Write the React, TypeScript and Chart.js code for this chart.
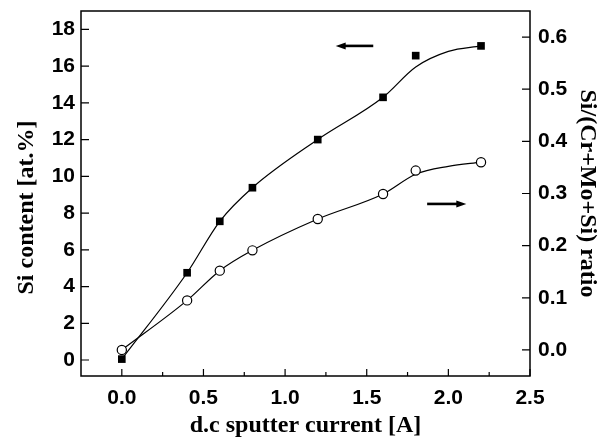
import { useEffect, useRef } from "react";
import { Chart, registerables } from "chart.js";

Chart.register(...registerables);

// Data
const currents = [0, 0.4, 0.6, 0.8, 1.2, 1.6, 1.8, 2.2];
const siContent = [0.05, 4.75, 7.55, 9.38, 12.0, 14.3, 16.57, 17.1];
const siRatio = [0.0, 0.095, 0.152, 0.191, 0.251, 0.299, 0.344, 0.36];

// Smooth fit curves
const fitCurrents = [0, 0.4, 0.6, 0.8, 1.2, 1.6, 1.8, 2.0, 2.2];
const siContentFit = [0.05, 4.75, 7.55, 9.38, 12.0, 14.3, 15.95, 16.8, 17.1];
const siRatioFit = [0.0, 0.095, 0.152, 0.191, 0.251, 0.299, 0.337, 0.352, 0.36];

// Ticks
const xTicks = [0, 0.25, 0.5, 0.75, 1.0, 1.25, 1.5, 1.75, 2.0, 2.25, 2.5];
const xLabelTicks = [0, 0.5, 1.0, 1.5, 2.0, 2.5];
const leftTicks = [0, 2, 4, 6, 8, 10, 12, 14, 16, 18];
const rightTicks = [0, 0.1, 0.2, 0.3, 0.4, 0.5, 0.6];

// Arrow annotations (data coordinates)
const leftArrowX = [1.31, 1.54];
const leftArrowY = 17.1;
const rightArrowX = [1.87, 2.11];
const rightArrowY = 0.28;

const leftTitle = "Si content [at.%]";

const tickFont = { family: "'Liberation Sans', Arial, sans-serif", size: 21, weight: "bold" as const };
const titleFont = { family: "'Liberation Serif', 'Times New Roman', serif", size: 24, weight: "bold" as const };

const isMajorX = (v: number) => xLabelTicks.some((t) => Math.abs(t - v) < 1e-6);

const noPad = (s: any) => {
  s.paddingTop = 0;
  s.paddingBottom = 0;
  s.paddingLeft = 0;
  s.paddingRight = 0;
};

const framePlugin = {
  id: "frameTicksArrows",
  afterDatasetsDraw(chart: any) {
    const { ctx, chartArea } = chart;
    const { left, right, top, bottom } = chartArea;
    const xs = chart.scales.x;
    const yl = chart.scales.y;
    const yr = chart.scales.y1;
    ctx.save();
    ctx.strokeStyle = "#000";
    ctx.lineWidth = 1.5;
    ctx.strokeRect(left, top, right - left, bottom - top);

    ctx.lineWidth = 1.2;
    ctx.beginPath();
    xTicks.forEach((v) => {
      const px = xs.getPixelForValue(v);
      const len = isMajorX(v) ? 7 : 4;
      ctx.moveTo(px, bottom);
      ctx.lineTo(px, bottom - len);
    });
    leftTicks.forEach((v) => {
      const py = yl.getPixelForValue(v);
      ctx.moveTo(left, py);
      ctx.lineTo(left + 8, py);
    });
    rightTicks.forEach((v) => {
      const py = yr.getPixelForValue(v);
      ctx.moveTo(right, py);
      ctx.lineTo(right - 8, py);
    });
    ctx.stroke();

    const drawArrow = (xa: number, xb: number, py: number, headAtLeft: boolean) => {
      const head = 10;
      const half = 3.5;
      ctx.lineWidth = 2.6;
      ctx.beginPath();
      if (headAtLeft) {
        ctx.moveTo(xa + head - 1, py);
        ctx.lineTo(xb, py);
      } else {
        ctx.moveTo(xa, py);
        ctx.lineTo(xb - head + 1, py);
      }
      ctx.stroke();
      ctx.beginPath();
      if (headAtLeft) {
        ctx.moveTo(xa, py);
        ctx.lineTo(xa + head, py - half);
        ctx.lineTo(xa + head, py + half);
      } else {
        ctx.moveTo(xb, py);
        ctx.lineTo(xb - head, py - half);
        ctx.lineTo(xb - head, py + half);
      }
      ctx.closePath();
      ctx.fillStyle = "#000";
      ctx.fill();
    };
    drawArrow(
      xs.getPixelForValue(leftArrowX[0]),
      xs.getPixelForValue(leftArrowX[1]),
      yl.getPixelForValue(leftArrowY),
      true
    );
    drawArrow(
      xs.getPixelForValue(rightArrowX[0]),
      xs.getPixelForValue(rightArrowX[1]),
      yr.getPixelForValue(rightArrowY),
      false
    );

    // Left axis title (slightly below the axis centre, as in the reference)
    ctx.translate(27, (top + bottom) / 2 + 14);
    ctx.rotate(-Math.PI / 2);
    ctx.font = `bold ${titleFont.size}px ${titleFont.family}`;
    ctx.fillStyle = "#000";
    ctx.textAlign = "center";
    ctx.textBaseline = "middle";
    ctx.fillText(leftTitle, 0, 0);
    ctx.restore();
  },
};

export default function App() {
  const canvasRef = useRef<HTMLCanvasElement | null>(null);

  useEffect(() => {
    if (!canvasRef.current) return;
    const chart = new Chart(canvasRef.current, {
      type: "scatter",
      data: {
        datasets: [
          {
            label: "Si content fit",
            data: fitCurrents.map((x, i) => ({ x, y: siContentFit[i] })),
            yAxisID: "y",
            showLine: true,
            borderColor: "#000",
            borderWidth: 1.2,
            pointRadius: 0,
            cubicInterpolationMode: "monotone",
            order: 2,
          } as any,
          {
            label: "Si/(Cr+Mo+Si) fit",
            data: fitCurrents.map((x, i) => ({ x, y: siRatioFit[i] })),
            yAxisID: "y1",
            showLine: true,
            borderColor: "#000",
            borderWidth: 1.2,
            pointRadius: 0,
            cubicInterpolationMode: "monotone",
            order: 2,
          } as any,
          {
            label: "Si content",
            data: currents.map((x, i) => ({ x, y: siContent[i] })),
            yAxisID: "y",
            pointStyle: "rect",
            pointRadius: 5.4,
            backgroundColor: "#000",
            borderColor: "#000",
            borderWidth: 0,
            order: 0,
          },
          {
            label: "Si/(Cr+Mo+Si) ratio",
            data: currents.map((x, i) => ({ x, y: siRatio[i] })),
            yAxisID: "y1",
            pointStyle: "circle",
            pointRadius: 4.6,
            backgroundColor: "#fff",
            borderColor: "#000",
            borderWidth: 1.2,
            order: 0,
          },
        ],
      },
      options: {
        animation: false,
        responsive: true,
        maintainAspectRatio: false,
        layout: { padding: { top: 11, left: 0, right: 0, bottom: 0 } },
        plugins: { legend: { display: false }, tooltip: { enabled: false } },
        scales: {
          x: {
            type: "linear",
            position: "bottom",
            min: -0.25,
            max: 2.5,
            grid: { display: false, drawTicks: false },
            border: { display: false },
            afterBuildTicks: (s: any) => {
              s.ticks = xTicks.map((v) => ({ value: v }));
            },
            afterFit: (s: any) => {
              s.height = 69;
              noPad(s);
            },
            ticks: {
              color: "#000",
              font: tickFont,
              padding: 10,
              maxRotation: 0,
              autoSkip: false,
              callback: (v: any) => (isMajorX(Number(v)) ? Number(v).toFixed(1) : ""),
            },
            title: {
              display: true,
              text: "d.c sputter current [A]",
              color: "#000",
              font: titleFont,
              padding: { top: 0, bottom: 5 },
            },
          },
          y: {
            type: "linear",
            position: "left",
            min: -0.87,
            max: 19.0,
            grid: { display: false, drawTicks: false },
            border: { display: false },
            afterBuildTicks: (s: any) => {
              s.ticks = leftTicks.map((v) => ({ value: v }));
            },
            afterFit: (s: any) => {
              s.width = 81;
              noPad(s);
            },
            ticks: {
              color: "#000",
              font: tickFont,
              padding: 6,
              autoSkip: false,
              callback: (v: any) => String(Math.round(Number(v))),
            },
            title: { display: false },
          },
          y1: {
            type: "linear",
            position: "right",
            min: -0.05,
            max: 0.65,
            grid: { display: false, drawTicks: false },
            border: { display: false },
            afterBuildTicks: (s: any) => {
              s.ticks = rightTicks.map((v) => ({ value: v }));
            },
            afterFit: (s: any) => {
              s.width = 79;
              noPad(s);
            },
            ticks: {
              color: "#000",
              font: tickFont,
              padding: 8,
              autoSkip: false,
              callback: (v: any) => Number(v).toFixed(1),
            },
            title: {
              display: true,
              text: "Si/(Cr+Mo+Si) ratio",
              color: "#000",
              font: titleFont,
              padding: { top: 7, bottom: 0 },
            },
          },
        },
      },
      plugins: [framePlugin],
    });
    return () => chart.destroy();
  }, []);

  return (
    <div
      style={{
        position: "fixed",
        left: 0,
        top: 0,
        width: 609,
        height: 445,
        background: "#fff",
      }}
    >
      <canvas ref={canvasRef} />
    </div>
  );
}
